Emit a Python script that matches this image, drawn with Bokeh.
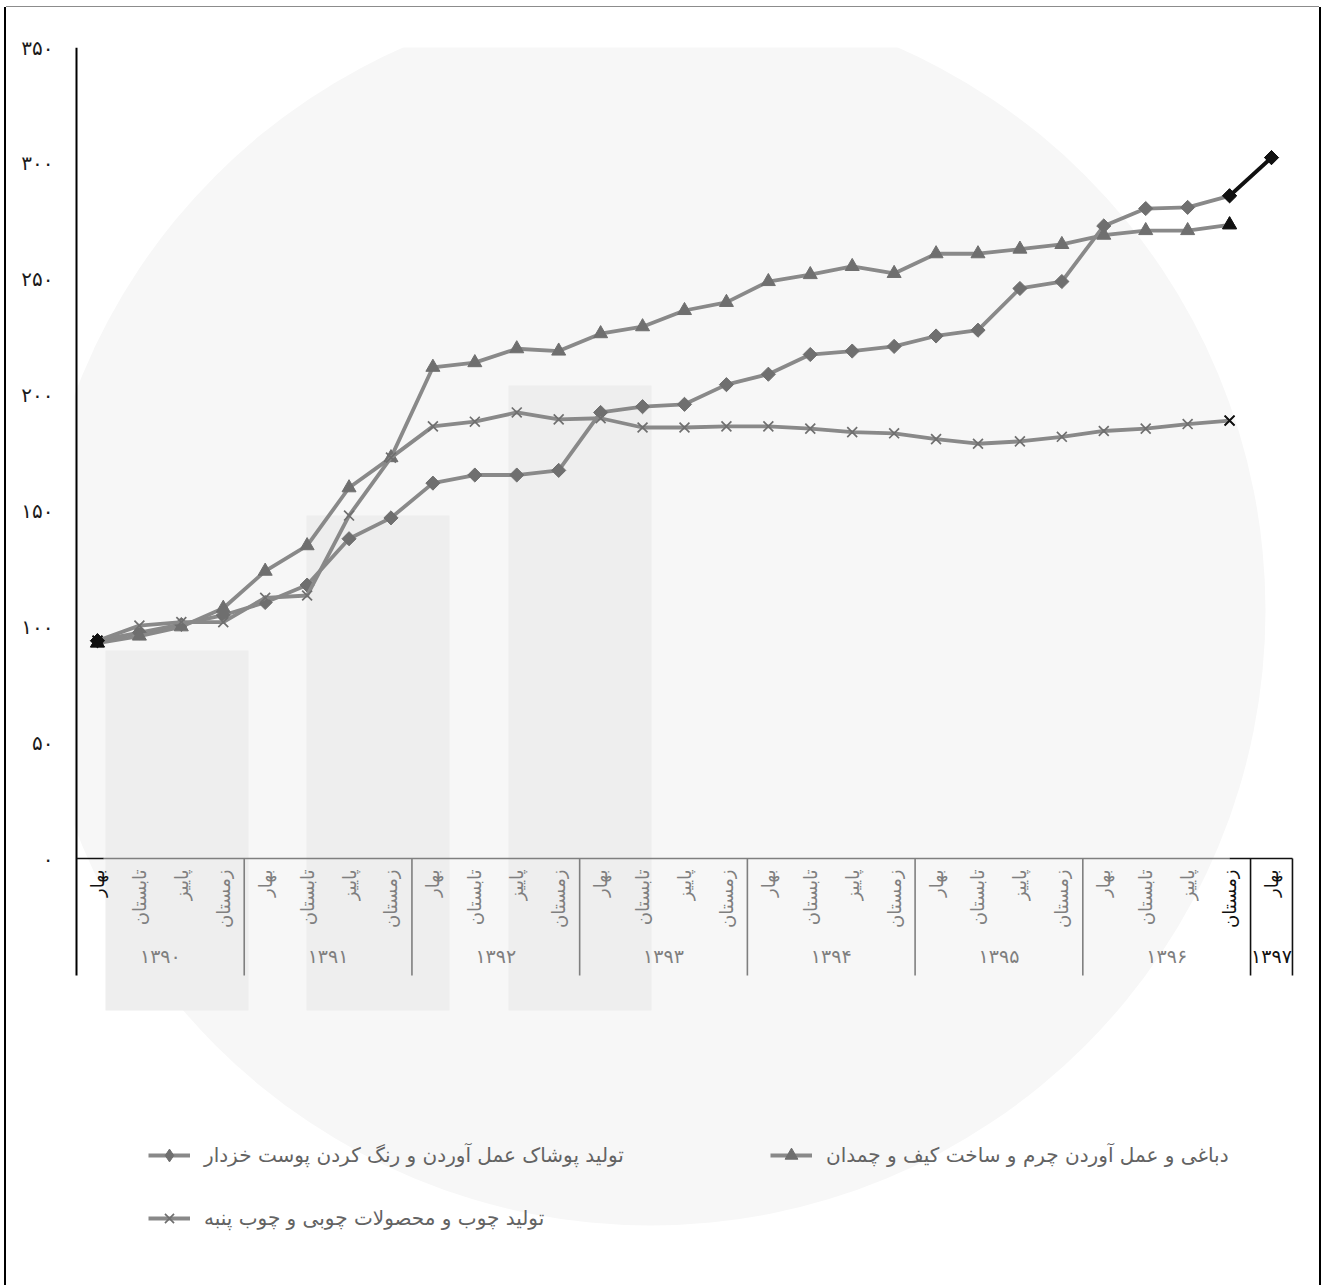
import math
from bokeh.plotting import figure
from bokeh.models import Range1d, FixedTicker, Legend, LegendItem
from bokeh.core.properties import value
from bokeh.embed import file_html
from bokeh.resources import INLINE

# ---------------- data ----------------
seasons = ["بهار", "تابستان", "پاییز", "زمستان"]
years = ["۱۳۹۰", "۱۳۹۱", "۱۳۹۲", "۱۳۹۳", "۱۳۹۴", "۱۳۹۵", "۱۳۹۶", "۱۳۹۷"]
point_season = seasons * 7 + ["بهار"]
point_year = [y for y in years[:7] for _ in range(4)] + [years[7]]

name_clothing = "تولید پوشاک عمل آوردن و رنگ کردن پوست خزدار"
name_leather = "دباغی و عمل آوردن چرم و ساخت کیف و چمدان"
name_wood = "تولید چوب و محصولات چوبی و چوب پنبه"

NaN = float("nan")
clothing = [94, 97.5, 101, 105, 110.5, 118, 138, 147, 162, 165.5, 165.5, 167.5,
            192.5, 195, 196, 204.5, 209, 217.5, 219, 221, 225.5, 228, 246, 249,
            273, 280.5, 281, 286, 302.5]
leather = [93, 96, 100, 108, 124, 135, 160, 173, 212, 214, 220, 219,
           226.5, 229.5, 236.5, 240, 249, 252, 255.5, 252.5, 261, 261, 263, 265,
           269, 271, 271, 273.5, NaN]
wood = [94, 100.5, 102, 102, 112.5, 113.5, 148, 173, 186.5, 188.5, 192.5, 189.5,
        190, 186, 186, 186.5, 186.5, 185.5, 184, 183.5, 181, 179, 180, 182,
        184.5, 185.5, 187.5, 189, NaN]

y_ticks = [0, 50, 100, 150, 200, 250, 300, 350]
y_tick_labels = ["۰", "۵۰", "۱۰۰", "۱۵۰", "۲۰۰", "۲۵۰", "۳۰۰", "۳۵۰"]

# ---------------- layout (screen px of the page) ----------------
n = len(point_season)
FIG_X, FIG_Y = 6, 7                  # figure offset on the page
W, H = 1313, 1278
AXIS_X = 76                          # y axis line
ZERO_Y = 858                         # y = 0
TOP_Y = 47                           # y = 350
AXIS_BOTTOM_Y = 975                  # lower end of axis / separators
FRAME_L, FRAME_R = AXIS_X - 2, 1294
FRAME_T, FRAME_B = TOP_Y, 1280
CELL = 41.93                         # px per category
PXU = 50 / 115.86                    # data units per px vertically

Y1 = 350
Y0 = -(FRAME_B - ZERO_Y) * PXU
X0 = -0.5 - (AXIS_X - FRAME_L) / CELL
X1 = X0 + (FRAME_R - FRAME_L) / CELL

def dx(px):
    return (px - AXIS_X) / CELL - 0.5

def dy(py):
    return (ZERO_Y - py) * PXU

FONT = "DejaVu Sans"
GRAY_LINE = "#898989"
GRAY_MARK = "#6f6f6f"
GRAY_TEXT = "#7f7f7f"
BLACK = "#111111"

p = figure(width=W, height=H, output_backend="svg", toolbar_location=None,
           x_range=Range1d(X0, X1), y_range=Range1d(Y0, Y1),
           x_axis_location=None,
           min_border_left=FRAME_L - FIG_X, min_border_right=FIG_X + W - FRAME_R,
           min_border_top=FRAME_T - FIG_Y, min_border_bottom=FIG_Y + H - FRAME_B)
p.outline_line_color = None
p.grid.visible = False
p.background_fill_color = "white"
p.border_fill_color = "white"
p.styles = {"position": "relative", "left": f"{FIG_X}px", "top": f"{FIG_Y}px",
            "box-shadow": "-2px 0 0 0 #000, 2px 0 0 0 #000, 0 -1px 0 0 #8c8c8c"}

# y axis: labels from bokeh's axis, line drawn separately so that it stops
ax = p.yaxis[0]
ax.ticker = FixedTicker(ticks=y_ticks)
ax.major_label_overrides = {t: l for t, l in zip(y_ticks, y_tick_labels)}
ax.axis_line_color = None
ax.major_tick_in = 0
ax.major_tick_out = 0
ax.major_tick_line_color = None
ax.minor_tick_line_color = None
ax.major_label_standoff = 21
ax.major_label_text_font = FONT
ax.major_label_text_font_size = "20px"
ax.major_label_text_color = "#1a1a1a"

# ---------------- watermark (decoration) ----------------
p.ellipse(x=[dx(650)], y=[dy(610)], width=1230, height=1230,
          width_units="screen", height_units="screen",
          fill_color="#f7f7f7", line_color=None)
p.quad(left=[dx(105), dx(306), dx(508)], right=[dx(248), dx(449), dx(651)],
       top=[dy(650), dy(515), dy(385)], bottom=[dy(1010)] * 3,
       fill_color="#eeeeee", line_color=None)

# ---------------- axes lines ----------------
y_axis_bottom = dy(AXIS_BOTTOM_Y)
p.segment(x0=[-0.5], y0=[y_axis_bottom], x1=[-0.5], y1=[Y1],
          line_color="black", line_width=2)

highlight = {0, n - 2, n - 1}
p.segment(x0=[-0.5, 0.15, n - 2.0], y0=[0, 0, 0],
          x1=[0.15, n - 2.0, n - 0.5], y1=[0, 0, 0],
          line_color=[BLACK, GRAY_TEXT, BLACK], line_width=1.6)

bounds = [i - 0.5 for i in range(1, n) if point_year[i] != point_year[i - 1]] + [n - 0.5]
p.segment(x0=bounds, y0=[0] * len(bounds), x1=bounds, y1=[y_axis_bottom] * len(bounds),
          line_color=[BLACK if b > n - 3 else GRAY_TEXT for b in bounds], line_width=1.6)

xs = list(range(n))
p.text(x=xs, y=[dy(ZERO_Y + 11)] * n, text=point_season, angle=math.pi / 2,
       text_align="right", text_baseline="middle",
       text_font=value(FONT), text_font_size="18px",
       text_color=[BLACK if i in highlight else GRAY_TEXT for i in xs])

year_centers = []
for yv in years:
    idx = [i for i in xs if point_year[i] == yv]
    year_centers.append(sum(idx) / len(idx))
p.text(x=year_centers, y=[dy(955)] * len(years), text=years,
       text_align="center", text_baseline="middle",
       text_font=value(FONT), text_font_size="19px",
       text_color=[GRAY_TEXT] * (len(years) - 1) + [BLACK])

# ---------------- series ----------------
LW = 3.8

def series(vals, marker, size, angle=0.0, lw=1.0, legend_marker=None):
    rl = p.line(xs, vals, line_color=GRAY_LINE, line_width=LW)
    kw = dict(marker=marker, size=size, angle=angle, line_width=lw)
    if marker == "x":
        kw.update(line_color=GRAY_MARK)
    else:
        kw.update(fill_color=GRAY_MARK, line_color=GRAY_MARK)
    rm = p.scatter(xs, vals, **kw)
    if legend_marker:
        # legend-only sample (legend glyphs ignore the angle); placed off-frame
        rm = p.scatter(x=[X1 + 10], y=[vals[0]], marker=legend_marker,
                       fill_color=GRAY_MARK, line_color=GRAY_MARK)
    return rl, rm

r1 = series(clothing, "square", 10, angle=math.pi / 4, legend_marker="diamond")
r2 = series(leather, "triangle", 14)
r3 = series(wood, "x", 14, lw=1.7)

# highlighted (black) first / last points
p.line(xs[-2:], clothing[-2:], line_color=BLACK, line_width=LW)
for vals, marker, size, angle in [(clothing, "square", 10, math.pi / 4),
                                  (leather, "triangle", 14, 0.0),
                                  (wood, "x", 14, 0.0)]:
    hx = [i for i in sorted(highlight) if vals[i] == vals[i]]
    hy = [vals[i] for i in hx]
    if marker == "x":
        p.scatter(hx, hy, marker=marker, size=size, line_color=BLACK, line_width=1.9)
    else:
        p.scatter(hx, hy, marker=marker, size=size, angle=angle,
                  fill_color=BLACK, line_color=BLACK)

# ---------------- legends ----------------
GH = 32

def add_legend(label, rends, left_px, center_py):
    lg = Legend(items=[LegendItem(label=label, renderers=list(rends))],
                location=(left_px - FRAME_L, FRAME_B - (center_py + GH / 2)),
                glyph_width=42, glyph_height=GH, label_height=GH,
                label_standoff=14, label_text_font=FONT, label_text_font_size="20px",
                label_text_color="#636363", padding=0, margin=0, spacing=0,
                border_line_color=None, background_fill_alpha=0)
    p.add_layout(lg)

add_legend(name_clothing, r1, 148, 1155)
add_legend(name_leather, r2, 770, 1155)
add_legend(name_wood, r3, 148, 1218)

open("out.html", "w").write(file_html(p, INLINE))
